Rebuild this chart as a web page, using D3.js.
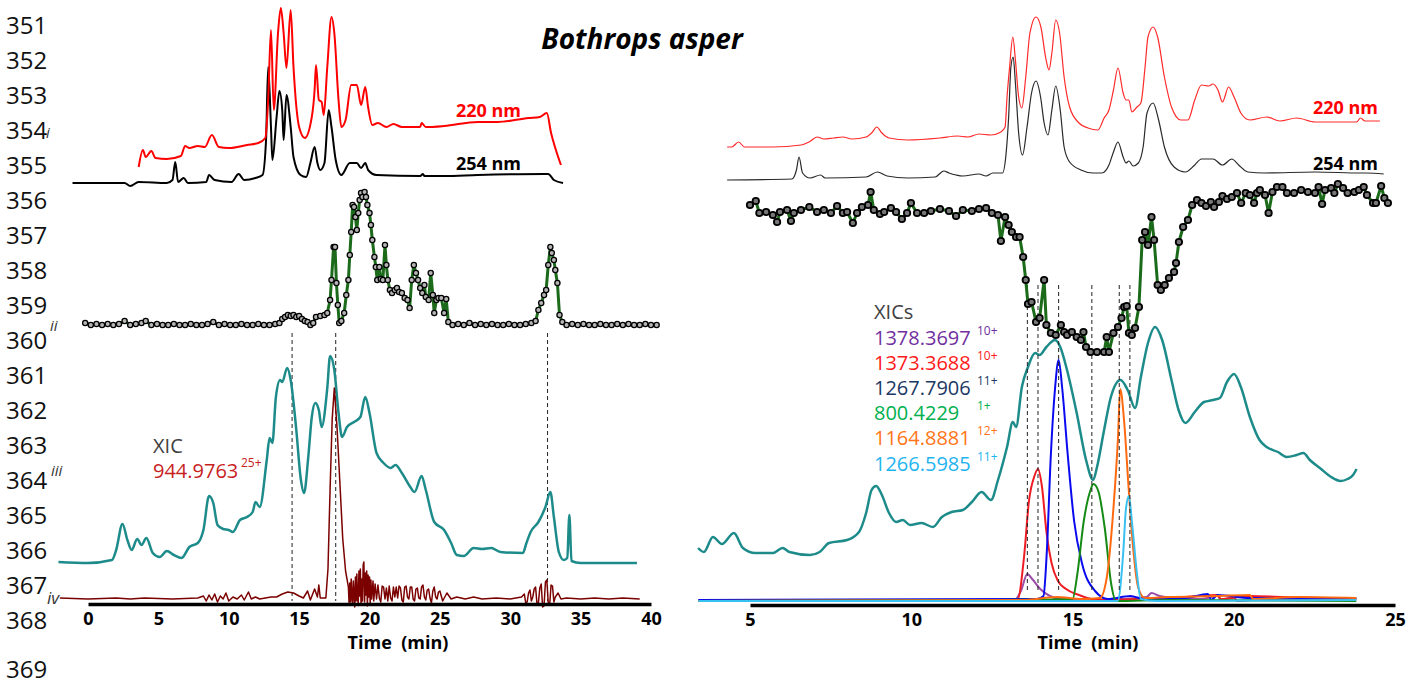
<!DOCTYPE html>
<html>
<head>
<meta charset="utf-8">
<script src="https://cdn.jsdelivr.net/npm/d3@7"></script>
<style>
body { margin: 0; background: #fff; }
svg text { font-family: "Open Sans", "Liberation Sans", sans-serif; }
</style>
</head>
<body>
<div id="chart"></div>
<script>
// ---- data (time in min, signal in relative units) ----
var lineNumbers = ['351','352','353','354','355','356','357','358','359','360','361','362','363','364','365','366','367','368','369'];
var panelTags = ['i', 'ii', 'iii', 'iv'];
var ticksL = [0, 5, 10, 15, 20, 25, 30, 35, 40];
var ticksR = [5, 10, 15, 20, 25];

// left panel (full gradient)
var uv220L = [[3.6,3],[3.9,20],[4.1,13],[4.5,19],[4.8,12],[5.6,11],[6.6,14],[6.9,24],[7.2,22],[7.8,24],[8.3,23],[8.8,35],[9.3,23],[10.0,22],[11.3,25],[12.1,27],[12.6,32],[12.8,70],[13.0,140],[13.2,60],[13.5,137],[13.7,162],[13.9,137],[14.1,102],[14.4,160],[14.6,103],[15.0,43],[15.4,32],[15.9,53],[16.1,80],[16.2,105],[16.4,70],[16.6,68],[16.75,55],[17.0,103],[17.3,153],[17.5,137],[17.8,70],[18.0,43],[18.3,50],[18.7,85],[19.1,85],[19.4,65],[19.7,83],[19.9,63],[20.2,45],[20.6,47],[21.2,43],[21.7,46],[22.3,43],[23.6,43],[23.7,47],[24.0,43],[25.3,44],[27.7,48],[29.1,48],[31.3,52],[32.1,53],[32.6,57],[32.9,37],[33.2,22],[33.6,5]];
var uv254L = [[-1.1,2],[2.6,2],[3.0,-1],[3.6,3],[5.6,2],[6.0,5],[6.2,23],[6.4,3],[6.8,7],[7.1,2],[8.4,3],[8.6,10],[9.0,5],[10.2,3],[10.7,11],[11.1,5],[11.9,7],[12.4,10],[12.65,45],[12.8,118],[13.0,58],[13.1,25],[13.4,68],[13.6,94],[13.8,75],[13.9,45],[14.1,90],[14.4,58],[14.6,28],[15.1,10],[15.5,8],[15.8,22],[16.1,38],[16.3,22],[16.5,15],[16.8,22],[17.1,75],[17.3,58],[17.6,25],[18.0,10],[18.6,22],[19.1,22],[19.4,17],[19.7,22],[19.9,15],[20.5,10],[23.6,9],[23.8,11],[23.9,9],[25.3,9],[27.7,10],[32.4,11],[32.7,11],[33.1,5],[33.75,2]];
var fractionsL = [[-0.2,2],[0.2,0],[0.6,1],[1.0,0],[1.4,1],[1.8,0],[2.2,1],[2.6,4],[3.0,0],[3.4,1],[3.8,2],[4.1,4],[4.5,0],[4.9,1],[5.3,0],[5.7,0],[6.1,1],[6.5,0],[6.9,0],[7.3,1],[7.7,0],[8.1,0],[8.5,1],[8.9,3],[9.3,0],[9.7,1],[10.1,0],[10.5,0],[10.9,1],[11.3,0],[11.7,0],[12.1,1],[12.5,0],[12.9,0],[13.3,1],[13.6,2],[13.8,6],[14.0,8],[14.2,10],[14.4,9],[14.6,10],[14.8,8],[15.0,9],[15.2,6],[15.4,4],[15.6,3],[15.8,0],[16.0,2],[16.2,8],[16.5,9],[16.8,10],[17.0,12],[17.2,25],[17.3,45],[17.45,78],[17.55,78],[17.65,42],[17.75,20],[17.85,2],[18.0,4],[18.2,12],[18.35,30],[18.5,45],[18.6,70],[18.7,93],[18.8,120],[18.9,118],[19.0,108],[19.1,95],[19.2,112],[19.3,125],[19.4,132],[19.5,128],[19.65,133],[19.75,128],[19.85,120],[20.0,112],[20.1,100],[20.2,85],[20.35,68],[20.45,58],[20.55,45],[20.7,58],[20.8,46],[20.95,45],[21.1,80],[21.2,60],[21.3,45],[21.45,35],[21.6,32],[21.8,35],[21.95,37],[22.1,33],[22.3,32],[22.5,27],[22.7,25],[22.85,17],[23.0,45],[23.15,60],[23.3,52],[23.45,45],[23.6,37],[23.75,32],[23.9,40],[24.0,28],[24.2,25],[24.35,52],[24.5,30],[24.6,12],[24.75,25],[24.9,27],[25.1,27],[25.3,12],[25.45,26],[25.6,3],[25.9,0],[26.3,1],[26.7,0],[27.1,2],[27.5,0],[27.9,1],[28.3,0],[28.7,1],[29.1,0],[29.5,0],[29.9,1],[30.3,0],[30.7,0],[31.1,1],[31.5,2],[31.8,4],[32.0,15],[32.2,22],[32.4,30],[32.55,35],[32.7,60],[32.85,78],[32.95,72],[33.1,65],[33.2,55],[33.35,42],[33.5,10],[33.7,3],[34.0,0],[34.4,1],[34.8,0],[35.2,1],[35.6,0],[36.0,0],[36.4,1],[36.8,0],[37.2,0],[37.6,1],[38.0,0],[38.4,1],[38.8,0],[39.2,0],[39.6,1],[40.0,0],[40.4,0]];
var ticL = [[-2.1,3],[0,2],[1.7,5],[2.0,15],[2.45,41],[2.8,25],[3.1,15],[3.5,26],[3.8,20],[4.15,27],[4.6,12],[5.1,8],[5.6,14],[6.1,10],[6.65,7],[7.2,18],[7.8,22],[8.2,35],[8.6,69],[8.9,62],[9.2,40],[9.6,36],[10.0,35],[10.3,33],[10.8,45],[11.3,48],[11.7,53],[11.9,63],[12.2,58],[12.7,105],[12.9,127],[13.1,122],[13.35,168],[13.65,185],[13.8,183],[14.15,197],[14.4,185],[14.8,135],[15.1,88],[15.35,72],[15.65,108],[15.9,148],[16.15,162],[16.4,155],[16.6,138],[17.0,177],[17.2,209],[17.5,195],[17.8,152],[18.05,128],[18.4,138],[18.9,143],[19.35,148],[19.7,168],[20.0,152],[20.5,112],[21.0,102],[21.5,97],[21.85,100],[22.3,92],[22.9,78],[23.2,73],[23.7,89],[24.0,75],[24.6,43],[25.3,35],[25.8,22],[26.2,10],[26.7,9],[27.4,17],[28.0,16],[28.65,17],[29.3,13],[30.9,12],[31.15,22],[31.45,33],[32.0,43],[32.5,58],[32.85,73],[33.1,48],[33.45,13],[33.8,5],[34.05,7],[34.2,50],[34.35,4],[35,2],[39,2]];
var xicL = [[-2,1],[0,0],[2,1],[3,0],[4,1],[6,0],[7.8,1],[8.2,3],[8.4,-2],[8.6,4],[8.8,-1],[9.0,5],[9.2,-3],[9.4,3],[9.6,0],[9.8,6],[10.0,-2],[10.3,2],[10.6,0],[10.9,4],[11.1,-1],[11.4,7],[11.6,0],[11.9,2],[12.2,0],[12.6,1],[13.0,2],[13.4,2],[13.8,5],[14.2,7],[14.6,6],[15.0,3],[15.3,1],[15.6,8],[15.8,-1],[16.1,10],[16.3,2],[16.4,14],[16.5,1],[16.9,1],[17.05,30],[17.2,110],[17.35,180],[17.5,211],[17.7,170],[17.9,115],[18.1,60],[18.3,28],[18.5,12],[18.55,-5],[18.6,16],[18.65,-3],[18.7,20],[18.75,2],[18.8,-6],[18.85,18],[18.9,5],[18.95,-8],[19.0,22],[19.05,-2],[19.1,25],[19.15,0],[19.2,-4],[19.25,28],[19.3,3],[19.35,30],[19.4,-6],[19.45,20],[19.5,-2],[19.55,34],[19.6,37],[19.65,-3],[19.7,26],[19.75,4],[19.8,28],[19.85,-7],[19.9,24],[19.95,2],[20.0,22],[20.05,-4],[20.1,19],[20.15,0],[20.25,18],[20.3,-2],[20.4,15],[20.5,0],[20.6,14],[20.7,1],[20.8,-3],[20.9,13],[21.0,12],[21.1,0],[21.2,11],[21.3,-2],[21.4,13],[21.5,1],[21.6,-2],[21.7,12],[21.8,2],[21.9,12],[22.0,1],[22.1,13],[22.2,11],[22.3,-1],[22.4,-3],[22.5,12],[22.6,13],[22.7,2],[22.8,0],[22.9,12],[23.0,12],[23.1,0],[23.2,-2],[23.3,10],[23.4,11],[23.5,1],[23.6,0],[23.7,12],[23.8,14],[23.9,2],[24.0,-1],[24.1,9],[24.2,10],[24.3,1],[24.4,-4],[24.5,8],[24.6,12],[24.7,2],[24.8,0],[24.9,7],[25.0,8],[25.2,-2],[25.5,6],[25.8,0],[26.2,2],[26.8,0],[27.4,2],[28.0,0],[29,1],[30,0],[30.8,2],[31.0,5],[31.1,-4],[31.2,-3],[31.3,6],[31.4,9],[31.5,-2],[31.6,2],[31.7,10],[31.8,12],[31.9,-5],[32.0,-4],[32.1,11],[32.2,15],[32.3,-8],[32.4,-7],[32.5,17],[32.6,19],[32.7,-4],[32.8,-6],[32.9,14],[33.0,13],[33.1,-3],[33.2,2],[33.4,6],[33.6,0],[34,1],[35,0],[36,1],[37,0],[38,1],[39.2,0]];
var markersL = [14.5, 17.6, 32.65];

// right panel (zoomed gradient)
var uv220R = [[4.29,3],[4.43,3],[4.65,8],[4.83,3],[5.71,3],[6.58,5],[6.83,8],[7.08,13],[7.29,11],[7.59,12],[7.88,13],[8.16,11],[8.6,13],[8.77,17],[8.93,23],[9.09,17],[9.31,12],[9.89,10],[10.89,12],[11.44,14],[11.76,13],[12.1,16],[12.47,15],[12.78,18],[12.91,23],[12.97,53],[13.05,83],[13.15,113],[13.23,90],[13.33,53],[13.43,42],[13.55,73],[13.68,117],[13.87,133],[14.02,123],[14.17,92],[14.27,80],[14.36,97],[14.48,130],[14.6,117],[14.74,73],[14.91,43],[15.2,27],[15.48,22],[15.79,20],[15.98,32],[16.13,40],[16.27,60],[16.41,82],[16.57,57],[16.66,50],[16.75,50],[16.84,38],[17.0,43],[17.12,47],[17.25,83],[17.34,113],[17.5,123],[17.64,113],[17.85,73],[18.07,43],[18.36,30],[18.58,30],[18.79,50],[19.0,65],[19.22,64],[19.36,66],[19.51,60],[19.65,48],[19.84,63],[20.01,53],[20.22,37],[20.5,30],[21.02,33],[21.43,29],[21.95,32],[22.52,28],[23.81,28],[23.93,32],[24.07,29],[24.53,29]];
var uv254R = [[4.29,2],[6.3,3],[6.44,12],[6.52,25],[6.63,9],[6.86,4],[7.19,7],[7.33,4],[8.6,5],[8.95,10],[9.25,6],[9.89,4],[10.74,5],[11.01,11],[11.17,9],[11.39,7],[11.6,6],[12.1,8],[12.32,6],[12.53,9],[12.83,9],[12.93,25],[13.02,65],[13.09,115],[13.16,125],[13.23,99],[13.33,49],[13.45,27],[13.59,55],[13.73,89],[13.87,101],[14.01,85],[14.12,59],[14.24,47],[14.36,72],[14.48,96],[14.62,72],[14.74,35],[14.91,20],[15.26,12],[15.64,9],[15.91,9],[16.13,17],[16.27,30],[16.41,40],[16.57,25],[16.66,19],[16.75,21],[16.88,16],[17.04,19],[17.19,35],[17.31,69],[17.5,79],[17.67,62],[17.85,35],[18.15,15],[18.5,10],[18.79,17],[19.0,23],[19.36,23],[19.65,17],[19.94,23],[20.15,17],[20.44,10],[20.94,9],[22.52,10],[23.95,9],[24.1,9],[24.65,8]];
var fractionsR = [[5.0,155],[5.18,159],[5.29,147],[5.5,148],[5.71,145],[5.84,138],[5.93,148],[6.15,150],[6.27,139],[6.36,147],[6.58,150],[6.84,153],[7.08,148],[7.29,150],[7.51,147],[7.7,154],[7.88,147],[8.01,148],[8.19,137],[8.32,147],[8.47,153],[8.66,155],[8.74,168],[8.84,150],[9.03,146],[9.16,148],[9.37,152],[9.53,148],[9.71,141],[9.87,147],[9.99,157],[10.18,147],[10.4,147],[10.61,149],[10.89,151],[11.17,149],[11.39,144],[11.6,150],[11.88,149],[12.1,151],[12.32,152],[12.5,147],[12.69,145],[12.78,119],[12.91,143],[13.02,135],[13.12,128],[13.25,123],[13.36,123],[13.47,103],[13.55,80],[13.62,56],[13.73,58],[13.87,38],[13.98,42],[14.12,80],[14.19,35],[14.33,27],[14.48,25],[14.64,35],[14.74,28],[14.83,25],[14.98,28],[15.13,23],[15.26,20],[15.34,28],[15.42,13],[15.56,8],[15.76,8],[15.98,8],[16.06,23],[16.13,8],[16.27,27],[16.41,33],[16.52,42],[16.6,53],[16.68,54],[16.75,27],[16.84,25],[16.94,32],[17.06,53],[17.16,120],[17.25,128],[17.34,115],[17.45,143],[17.53,120],[17.64,75],[17.74,70],[17.86,75],[17.99,82],[18.15,88],[18.21,97],[18.3,118],[18.43,133],[18.58,140],[18.71,155],[18.86,160],[19.0,157],[19.14,154],[19.29,158],[19.39,153],[19.54,158],[19.65,164],[19.79,161],[19.94,163],[20.1,167],[20.23,157],[20.37,167],[20.5,165],[20.63,157],[20.72,167],[20.81,170],[20.97,165],[21.08,147],[21.2,168],[21.34,173],[21.51,173],[21.65,167],[21.87,167],[22.09,170],[22.3,168],[22.52,167],[22.63,173],[22.74,156],[22.83,170],[23.02,172],[23.12,167],[23.23,176],[23.39,172],[23.53,167],[23.74,168],[23.88,170],[24.03,173],[24.13,165],[24.32,157],[24.41,157],[24.57,174],[24.67,162],[24.78,157]];
var ticR = [[3.39,12],[3.57,8],[3.85,23],[4.13,16],[4.5,27],[4.78,12],[5.16,7],[5.71,7],[6.01,12],[6.22,8],[6.86,5],[7.16,8],[7.45,17],[8.01,20],[8.38,28],[8.6,47],[8.77,70],[8.91,74],[9.09,65],[9.31,47],[9.53,38],[9.74,40],[9.96,35],[10.32,37],[10.67,33],[10.95,43],[11.25,48],[11.6,50],[11.88,58],[12.18,68],[12.47,60],[12.69,80],[12.97,113],[13.15,138],[13.25,133],[13.43,173],[13.62,193],[13.84,207],[13.98,205],[14.19,213],[14.46,220],[14.62,213],[14.83,190],[15.13,147],[15.42,100],[15.64,80],[15.76,93],[15.98,130],[16.19,163],[16.49,180],[16.71,170],[16.94,152],[17.12,183],[17.34,217],[17.56,233],[17.78,220],[18.07,180],[18.29,150],[18.5,137],[18.79,148],[19.08,158],[19.36,160],[19.57,162],[19.79,178],[20.01,186],[20.22,173],[20.5,143],[20.8,120],[21.02,113],[21.37,108],[21.65,103],[21.95,105],[22.16,107],[22.36,100],[22.67,92],[23.02,83],[23.31,79],[23.53,81],[23.7,85],[23.81,91]];
var xicNames = ['1378.3697', '1373.3688', '1267.7906', '800.4229', '1164.8881', '1266.5985'];
var xicCharges = ['10+', '10+', '11+', '1+', '12+', '11+'];
var xic1378 = [[3.4,1],[6,0],[9,1],[12,0],[13.2,1],[13.4,10],[13.6,27],[13.75,22],[14.0,12],[14.3,5],[14.6,2],[15,1],[16.5,2],[17.3,4],[17.45,8],[17.7,5],[18.2,3],[19,2],[19.5,5],[19.6,1],[20,4],[20.1,0],[21,2],[22,1],[23.8,2]];
var xic1373 = [[3.4,0],[12,0],[13.3,2],[13.5,45],[13.65,100],[13.82,125],[13.93,132],[14.05,115],[14.2,67],[14.35,38],[14.55,20],[14.8,12],[15.2,6],[15.6,2],[16,1],[17.5,3],[18.5,4],[19.5,6],[19.6,2],[20.5,5],[21.5,4],[23,3],[23.8,2]];
var xic1267 = [[3.4,1],[13.9,2],[14.1,5],[14.2,47],[14.33,147],[14.46,213],[14.57,241],[14.68,213],[14.85,147],[15.05,80],[15.3,37],[15.7,10],[16.1,2],[16.8,5],[17.2,2],[18.5,3],[19.2,7],[19.3,1],[19.5,6],[20.5,3],[23.8,3]];
var xic800 = [[3.4,0],[12.5,1],[15.0,2],[15.15,27],[15.35,80],[15.55,110],[15.65,117],[15.8,110],[16.0,73],[16.2,17],[16.35,0],[18,1],[23.8,0]];
var xic1164 = [[3.4,0],[13.5,1],[14.5,4],[15.3,2],[15.85,3],[16.06,23],[16.27,93],[16.41,163],[16.48,212],[16.6,180],[16.74,113],[16.88,53],[17.04,13],[17.25,3],[18,4],[19.5,5],[20.5,6],[20.6,2],[22,4],[23.8,3]];
var xic1266 = [[3.4,0],[16.4,0],[16.57,47],[16.66,93],[16.75,105],[16.84,80],[17.0,27],[17.12,2],[17.6,0],[23.8,1]];
var xicSeriesR = [xic1378, xic1373, xic1267, xic800, xic1164, xic1266];
var markersR = [13.6, 13.93, 14.57, 15.6, 16.45, 16.78];

var legendColors = ['#7030a0', '#ff1a1a', '#203864', '#00b050', '#ff7518', '#1eb4f0'];
var traceColors = ['#9b4da8', '#ee1c24', '#0a0af0', '#158a15', '#ff6a10', '#38c0f0'];

// ---- layout ----
var svg = d3.select('#chart').append('svg')
	.attr('width', 1424)
	.attr('height', 689);

var xL = d3.scaleLinear().domain([0, 40]).range([88, 651]);
var xR = d3.scaleLinear().domain([5, 25]).range([750, 1395]);
var sansFont = '"Liberation Sans", Arial, sans-serif';

// 1 signal unit = 1 px above the trace's own baseline
var band = function (y0) {
	return d3.scaleLinear().domain([0, 100]).range([y0, y0 - 100]);
};

var drawTrace = function (data, x, y, color, width, curve) {
	return svg.append('path')
		.datum(data)
		.attr('fill', 'none')
		.attr('stroke', color)
		.attr('stroke-width', width)
		.attr('stroke-linejoin', 'round')
		.attr('d', d3.line()
			.x(function (d) { return x(d[0]); })
			.y(function (d) { return y(d[1]); })
			.curve(curve || d3.curveMonotoneX));
};

var drawMarkers = function (data, x, y, r, fill, stroke, sw) {
	svg.append('g').selectAll('circle')
		.data(data)
		.enter().append('circle')
		.attr('cx', function (d) { return x(d[0]); })
		.attr('cy', function (d) { return y(d[1]); })
		.attr('r', r)
		.attr('fill', fill)
		.attr('stroke', stroke)
		.attr('stroke-width', sw);
};

var drawDashes = function (times, x, y1, y2) {
	svg.append('g').selectAll('line')
		.data(times)
		.enter().append('line')
		.attr('x1', function (d) { return x(d); })
		.attr('x2', function (d) { return x(d); })
		.attr('y1', y1)
		.attr('y2', y2)
		.attr('stroke', '#222')
		.attr('stroke-width', 1)
		.attr('stroke-dasharray', '4,3');
};

var drawAxis = function (x, ticks, y, titleX) {
	var ax = svg.append('g')
		.attr('transform', 'translate(0,' + y + ')')
		.call(d3.axisBottom(x).tickValues(ticks).tickSize(0).tickSizeOuter(0).tickPadding(8));
	ax.select('.domain').attr('stroke', '#000').attr('stroke-width', 3.5);
	ax.selectAll('text')
		.attr('font-family', sansFont)
		.attr('font-size', 18)
		.attr('font-weight', 'bold')
		.attr('fill', '#000');
	svg.append('text')
		.attr('x', titleX)
		.attr('y', 649)
		.attr('text-anchor', 'middle')
		.attr('font-family', sansFont)
		.attr('font-size', 18)
		.attr('font-weight', 'bold')
		.text('Time\u00a0 (min)');
};

var label = function (x, y, txt, size, color, opts) {
	opts = opts || {};
	return svg.append('text')
		.attr('x', x)
		.attr('y', y)
		.attr('dominant-baseline', 'central')
		.attr('text-anchor', opts.anchor || 'start')
		.attr('font-size', size)
		.attr('font-weight', opts.weight || 'normal')
		.attr('font-style', opts.style || 'normal')
		.attr('font-family', opts.family || null)
		.attr('fill', color)
		.text(txt);
};

// manuscript line numbers
lineNumbers.forEach(function (n, i) {
	var y = i < 18 ? 24 + i * 35 : 668;
	label(6, y, n, 24, '#111');
});
label(46, 132, panelTags[0], 15, '#333', {style: 'italic'});
label(50, 325, panelTags[1], 15, '#333', {style: 'italic'});
label(51, 470, panelTags[2], 15, '#333', {style: 'italic'});
label(47, 597, panelTags[3], 17, '#333', {style: 'italic'});

// title
label(642, 38, 'Bothrops asper', 28, '#000',
	{anchor: 'middle', weight: 'bold', style: 'italic', family: sansFont});

// ---- left panel ----
drawTrace(uv254L, xL, band(185), '#000', 2);
drawTrace(uv220L, xL, band(170), '#ff0000', 2);
label(521, 110, '220 nm', 18, '#ff0000', {anchor: 'end', weight: 'bold', family: sansFont});
label(521, 163, '254 nm', 18, '#000', {anchor: 'end', weight: 'bold', family: sansFont});

drawDashes(markersL, xL, 333, 601);

drawTrace(fractionsL, xL, band(325), '#1b6b1b', 3, d3.curveLinear);
drawMarkers(fractionsL, xL, band(325), 2.6, '#b5b5b5', '#000', 1.3);

drawTrace(ticL, xL, band(565), '#1e8b8b', 2.5);
drawTrace(xicL, xL, band(599), '#7b0000', 1.5, d3.curveLinear);

label(153, 445, 'XIC', 20, '#404040', {family: sansFont});
label(153, 470, '944.9763', 20, '#c81e1e', {family: sansFont});
label(241, 462, '25+', 12, '#c81e1e', {family: sansFont});

drawAxis(xL, ticksL, 604, 398);

// ---- right panel ----
drawTrace(uv254R, xR, band(182), '#2a2a2a', 1.2);
drawTrace(uv220R, xR, band(150), '#ff2a2a', 1.2);
label(1378, 107, '220 nm', 18, '#ff0000', {anchor: 'end', weight: 'bold', family: sansFont});
label(1378, 163, '254 nm', 18, '#000', {anchor: 'end', weight: 'bold', family: sansFont});

drawTrace(ticR, xR, band(560), '#1e8b8b', 2.5);

xicSeriesR.forEach(function (s, i) {
	drawTrace(s, xR, band(601), traceColors[i], 2);
});

drawDashes(markersR, xR, 285, 592);

drawTrace(fractionsR, xR, band(360), '#1b6b1b', 3, d3.curveLinear);
drawMarkers(fractionsR, xR, band(360), 3.2, '#777', '#000', 1.8);

label(874, 311, 'XICs', 20, '#404040', {family: sansFont});
xicNames.forEach(function (n, i) {
	var y = 337 + i * 25.2;
	label(874, y, n, 20, legendColors[i], {family: sansFont});
	label(977, y - 7, xicCharges[i], 12, legendColors[i], {family: sansFont});
});

drawAxis(xR, ticksR, 605, 1088);
</script>
</body>
</html>
